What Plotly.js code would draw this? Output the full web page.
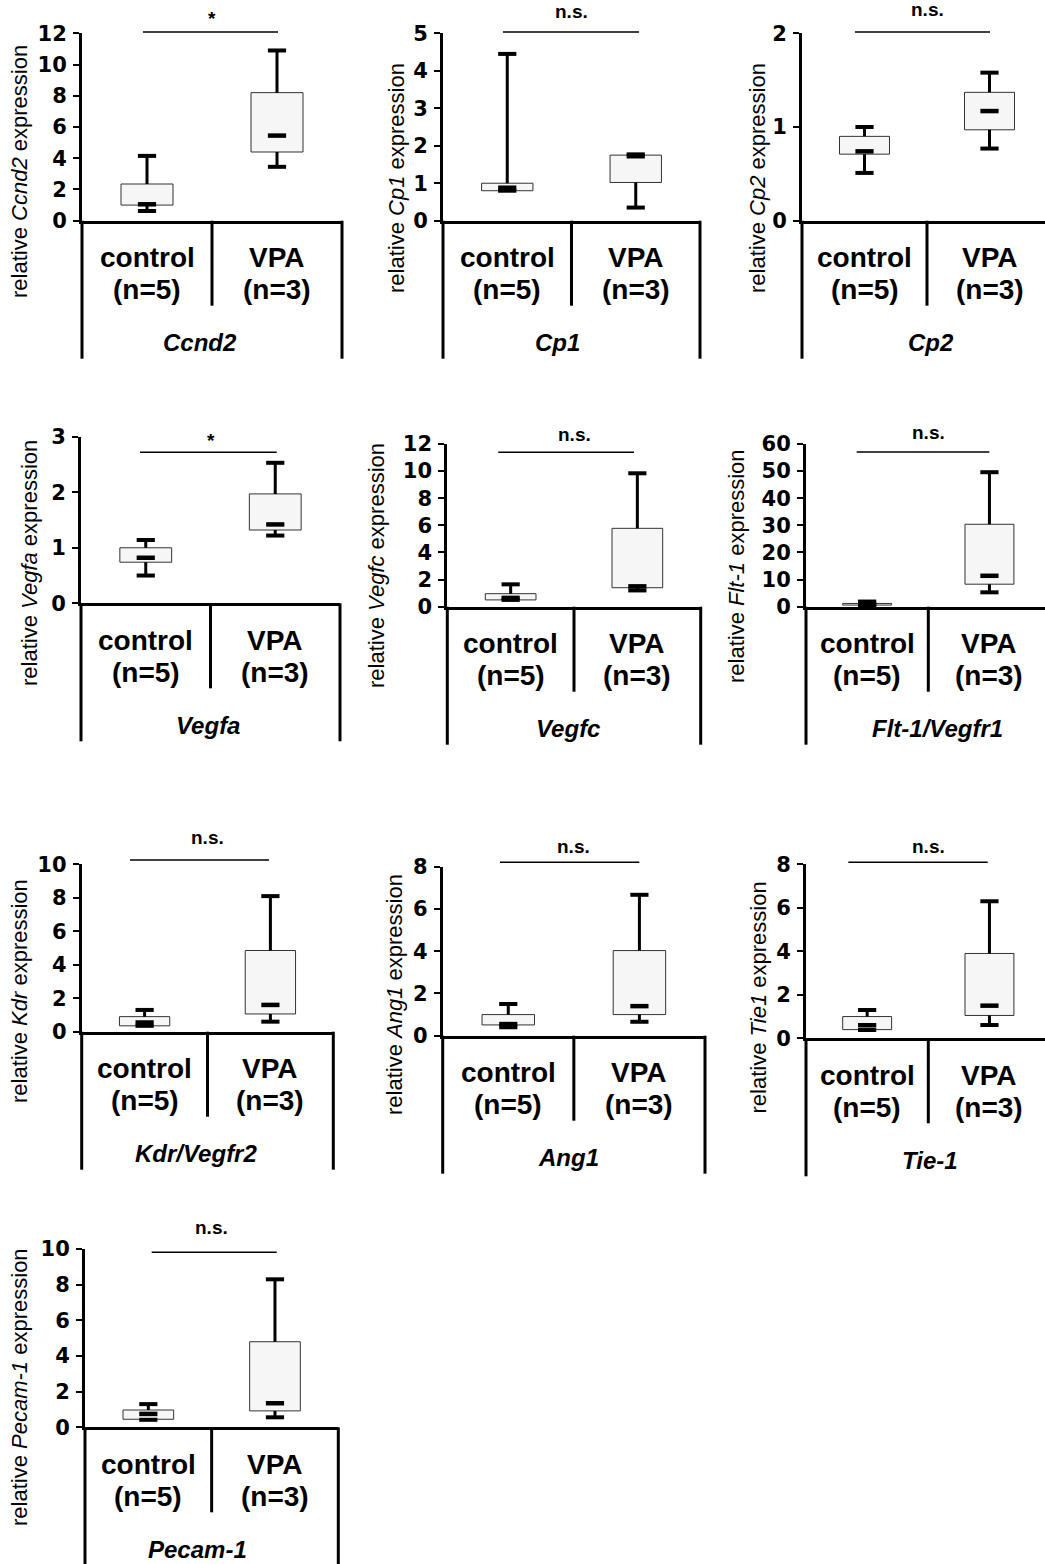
<!DOCTYPE html>
<html><head><meta charset="utf-8">
<script src="https://cdn.plot.ly/plotly-3.0.1.min.js"></script>
<style>html,body{margin:0;padding:0;background:#fff}</style>
</head><body><div id="chart" style="width:1045px;height:1564px"></div>
<script>
// ---- data ----
const genes = ['Ccnd2','Cp1','Cp2','Vegfa','Vegfc','Flt-1/Vegfr1','Kdr/Vegfr2','Ang1','Tie-1','Pecam-1'];
const yGenes = ['Ccnd2','Cp1','Cp2','Vegfa','Vegfc','Flt-1','Kdr','Ang1','Tie1','Pecam-1'];
const groups = ['control','VPA'];
const groupN = ['(n=5)','(n=3)'];
const sig = ['*','n.s.','n.s.','*','n.s.','n.s.','n.s.','n.s.','n.s.','n.s.'];
const yMax = [12,5,2,3,12,60,10,8,8,10];
const yStep = [2,1,1,1,2,10,2,2,2,2];

const ctrlMin = [0.62,0.80,0.51,0.50,0.50,0.50,0.35,0.40,0.38,0.42];
const ctrlQ1  = [1.00,0.80,0.71,0.74,0.50,0.60,0.35,0.51,0.40,0.45];
const ctrlMed = [1.05,0.88,0.74,0.82,0.65,0.90,0.55,0.55,0.60,0.75];
const ctrlQ3  = [2.35,1.00,0.90,1.00,0.96,1.20,0.90,1.00,1.00,0.97];
const ctrlMax = [4.15,4.45,1.00,1.14,1.65,1.90,1.30,1.50,1.30,1.30];

const vpaMin = [3.45,0.35,0.77,1.22,1.20,5.3,0.60,0.66,0.61,0.56];
const vpaQ1  = [4.40,1.02,0.97,1.32,1.40,8.3,1.06,1.00,1.05,0.92];
const vpaMed = [5.45,1.72,1.17,1.42,1.50,11.4,1.60,1.40,1.50,1.35];
const vpaQ3  = [8.20,1.75,1.37,1.97,5.78,30.4,4.85,4.03,3.90,4.80];
const vpaMax = [10.9,1.77,1.58,2.53,9.84,49.6,8.10,6.67,6.30,8.30];

// ---- layout geometry (pixels) ----
const W = 1045, H = 1564;
// axisX, rightX, topY, zeroY, sigLineY, sigX0, sigX1, sigTextY, titleX, titleY, geneX
const geo = [
  [82, 342, 33.3, 220.7, 32, 143, 278, 18.5, 19, 172, 200],
  [443, 700, 33.3, 220.7, 32, 503, 639, 11.4, 396, 178, 557],
  [802, 1052, 33.3, 220.7, 32, 855, 990, 9.4, 757, 178, 931],
  [81, 340, 436.7, 603.3, 452.3, 140, 276.7, 440.4, 29, 563, 207.5],
  [447.3, 700.7, 444, 606.7, 452.3, 498.3, 634, 434.4, 376, 566, 568],
  [806, 1050.6, 444, 606.7, 452, 856.7, 989.3, 432.7, 736, 566, 937.6],
  [81.7, 333.3, 864.3, 1031.7, 860, 130, 269, 837.7, 19, 991, 196],
  [442.7, 705, 866.7, 1035.7, 862.3, 500, 639.3, 846.7, 394, 995, 568.5],
  [806, 1050.6, 864.3, 1038.3, 862.3, 848.3, 987.7, 846.7, 757.5, 998, 930],
  [85, 338.3, 1249, 1427.3, 1252.3, 151.7, 276.7, 1227.7, 19, 1387, 197.5]
];
const px = x => x / W;
const py = y => 1 - y / H;

const FONT = 'Liberation Sans, Arial, sans-serif';
const traces = [], shapes = [], annotations = [];
const layout = {
  width: W, height: H, margin: {l:0, r:0, t:0, b:0},
  paper_bgcolor: '#ffffff', plot_bgcolor: 'rgba(0,0,0,0)',
  showlegend: false, barmode: 'overlay'
};

genes.forEach((g, i) => {
  const s = i === 0 ? '' : String(i + 1);
  const xa = 'x' + s, ya = 'y' + s;
  const [ax, rx, top, zero, sly, sx0, sx1, sty, tx, ty, gx] = geo[i];
  const vis = Math.min(rx, W);
  const xr = [-0.5, -0.5 + 2 * (vis - ax) / (rx - ax)];
  const pos = [0, 1];
  const mins = [ctrlMin[i], vpaMin[i]], q1 = [ctrlQ1[i], vpaQ1[i]], med = [ctrlMed[i], vpaMed[i]],
        q3 = [ctrlQ3[i], vpaQ3[i]], maxs = [ctrlMax[i], vpaMax[i]];

  traces.push({
    type: 'bar', x: pos, base: q1, y: q3.map((v, k) => v - q1[k]), width: 0.4,
    marker: {color: '#f6f6f6', line: {color: '#333333', width: 1}},
    xaxis: xa, yaxis: ya, hoverinfo: 'skip'
  });
  const wx = [], wy = [];
  pos.forEach((p, k) => { wx.push(p, p, null, p, p, null); wy.push(q3[k], maxs[k], null, q1[k], mins[k], null); });
  traces.push({type: 'scatter', mode: 'lines', x: wx, y: wy, line: {color: '#000', width: 3},
    xaxis: xa, yaxis: ya, hoverinfo: 'skip', cliponaxis: false});
  traces.push({type: 'scatter', mode: 'markers', x: pos.concat(pos), y: maxs.concat(mins),
    marker: {symbol: 'line-ew', size: 13, line: {color: '#000', width: 4}},
    xaxis: xa, yaxis: ya, hoverinfo: 'skip', cliponaxis: false});
  traces.push({type: 'scatter', mode: 'markers', x: pos, y: med,
    marker: {symbol: 'line-ew', size: 13, line: {color: '#000', width: 4.5}},
    xaxis: xa, yaxis: ya, hoverinfo: 'skip', cliponaxis: false});

  layout['xaxis' + s] = {
    domain: [px(ax), px(vis)], range: xr, anchor: ya,
    showline: true, linewidth: 3, linecolor: '#000', showgrid: false, zeroline: false,
    showticklabels: false, ticks: '', fixedrange: true
  };
  layout['yaxis' + s] = {
    domain: [py(zero), py(top)], range: [0, yMax[i]], anchor: xa,
    tick0: 0, dtick: yStep[i], ticks: 'outside', ticklen: 6, tickwidth: 2, tickcolor: '#000',
    showline: true, linewidth: 3, linecolor: '#000', showgrid: false, zeroline: false,
    tickfont: {family: 'DejaVu Sans', size: 21, color: '#000', weight: 'bold'},
    ticklabelstandoff: 2, fixedrange: true
  };

  const line = (x0, y0, x1, y1, w) => shapes.push({type: 'line', xref: 'paper', yref: 'paper',
    x0: px(x0), y0: py(y0), x1: px(x1), y1: py(y1), line: {color: '#000', width: w}});
  const mid = ax + (rx - ax) / 2;
  line(ax, zero, ax, zero + 138, 3);
  line(mid, zero, mid, zero + 85, 3);
  if (rx <= W) line(rx, zero, rx, zero + 138, 3);
  line(sx0, sly, sx1, sly, 1.5);

  const ann = (o) => annotations.push(Object.assign({showarrow: false, xanchor: 'center', yanchor: 'middle'}, o));
  ann({xref: 'paper', yref: 'paper', x: px(tx), y: py(ty), textangle: -90,
    text: 'relative <i>' + yGenes[i] + '</i> expression',
    font: {family: FONT, size: 22, color: '#000'}});
  ann({xref: xa, yref: 'paper', x: 0.5, y: py(sty), text: '<b>' + sig[i] + '</b>',
    font: {family: FONT, size: 19, color: '#000'}});
  pos.forEach((p, k) => {
    ann({xref: xa, yref: 'paper', x: p, y: py(zero + 37), text: '<b>' + groups[k] + '</b>',
      font: {family: FONT, size: 28, color: '#000'}});
    ann({xref: xa, yref: 'paper', x: p, y: py(zero + 69), text: '<b>' + groupN[k] + '</b>',
      font: {family: FONT, size: 28, color: '#000'}});
  });
  ann({xref: 'paper', yref: 'paper', x: px(gx), y: py(zero + 122), text: '<b><i>' + g + '</i></b>',
    font: {family: FONT, size: 24, color: '#000'}});
});

layout.shapes = shapes;
layout.annotations = annotations;
Plotly.newPlot('chart', traces, layout, {staticPlot: true, displayModeBar: false});
</script></body></html>
